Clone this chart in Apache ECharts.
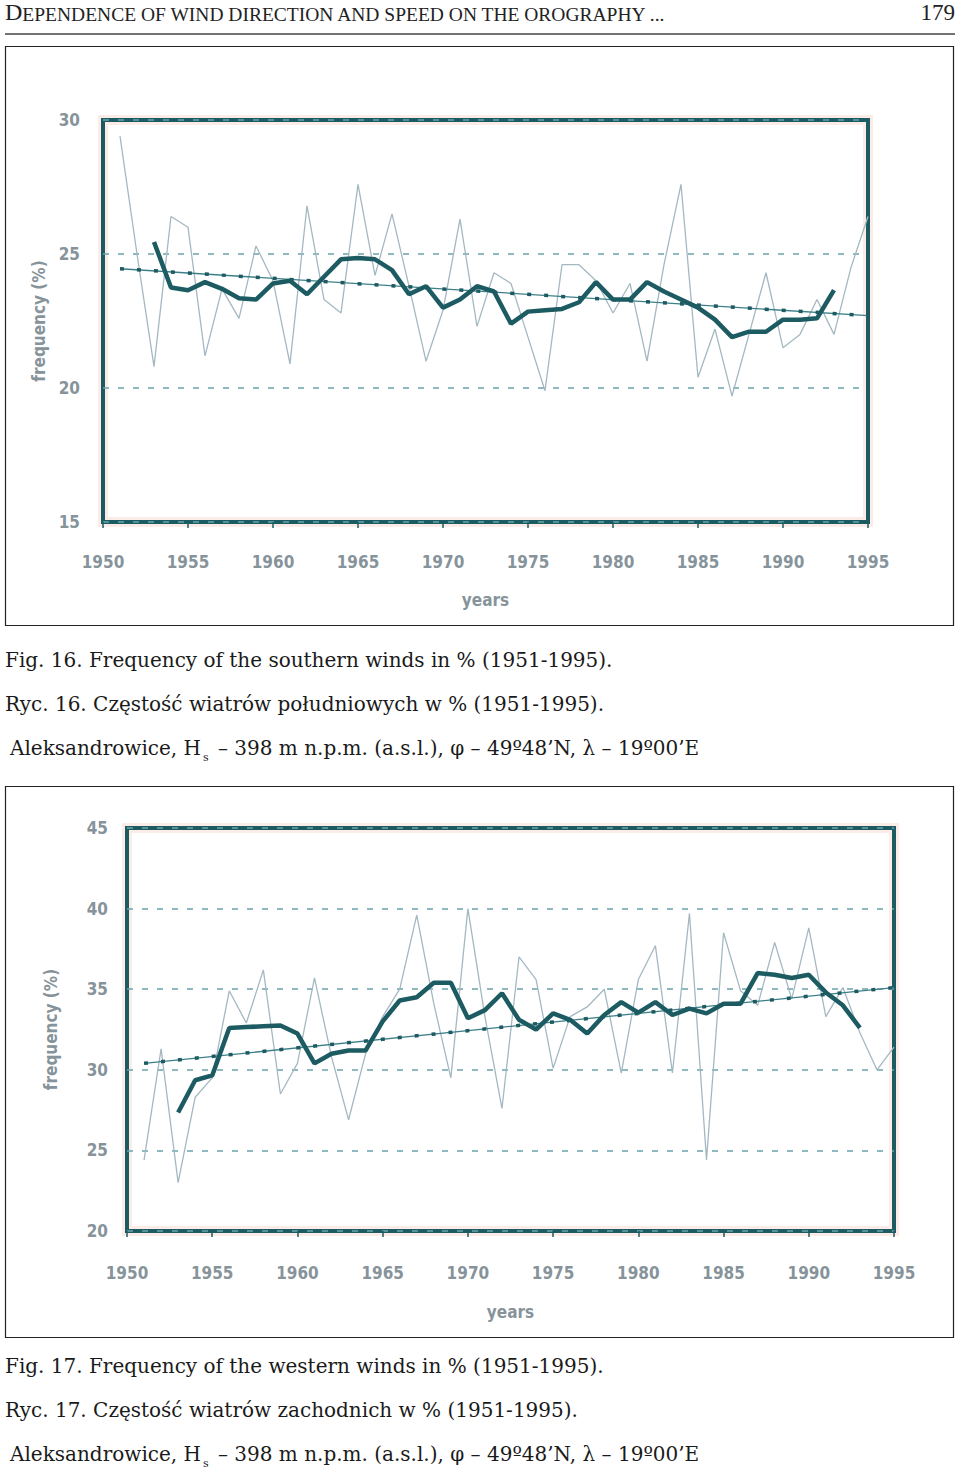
<!DOCTYPE html>
<html><head><meta charset="utf-8">
<script src="https://cdn.jsdelivr.net/npm/echarts@6/dist/echarts.min.js"></script>
<style>html,body{margin:0;padding:0;background:#fff}#c{width:960px;height:1476px}</style>
</head><body><div id="c"></div>
<script>
// ---------- data ----------
const years = [1951,1952,1953,1954,1955,1956,1957,1958,1959,1960,1961,1962,1963,1964,1965,1966,1967,1968,1969,1970,1971,1972,1973,1974,1975,1976,1977,1978,1979,1980,1981,1982,1983,1984,1985,1986,1987,1988,1989,1990,1991,1992,1993,1994,1995];
const maYears = [1953,1954,1955,1956,1957,1958,1959,1960,1961,1962,1963,1964,1965,1966,1967,1968,1969,1970,1971,1972,1973,1974,1975,1976,1977,1978,1979,1980,1981,1982,1983,1984,1985,1986,1987,1988,1989,1990,1991,1992,1993];
const xTicks = [1950,1955,1960,1965,1970,1975,1980,1985,1990,1995];

// Fig. 16 southern winds
const southFreq = [29.4,25.0,20.8,26.4,26.0,21.2,23.7,22.6,25.3,24.0,20.9,26.8,23.3,22.8,27.6,24.2,26.5,23.8,21.0,22.9,26.3,22.3,24.3,23.9,21.9,19.9,24.6,24.6,24.0,22.8,23.9,21.0,24.6,27.6,20.4,22.2,19.7,22.0,24.3,21.5,22.0,23.3,22.0,24.5,26.4];
const southMA = [25.45,23.75,23.65,23.95,23.7,23.35,23.3,23.9,24.0,23.5,24.15,24.8,24.85,24.8,24.4,23.5,23.8,23.0,23.3,23.8,23.6,22.4,22.85,22.9,22.95,23.2,23.95,23.3,23.3,23.95,23.6,23.3,23.0,22.55,21.9,22.1,22.1,22.55,22.55,22.6,23.65];
const southTrendYears = [1951,1995];
const southTrend = [24.45,22.7];
const southYTicks = [15,20,25,30];

// Fig. 17 western winds
const westFreq = [24.4,31.3,23.0,28.3,29.5,34.9,32.9,36.2,28.5,30.4,35.7,30.8,26.9,31.0,33.3,35.0,39.6,34.1,29.5,40.0,33.3,27.6,37.0,35.6,30.1,33.3,33.9,35.0,29.8,35.6,37.7,29.8,39.7,24.4,38.5,34.9,34.0,37.9,34.4,38.8,33.3,35.1,32.3,30.0,31.4];
const westMA = [27.35,29.35,29.65,32.6,32.65,32.7,32.75,32.25,30.4,31.0,31.2,31.2,33.0,34.3,34.5,35.4,35.4,33.2,33.7,34.75,33.1,32.5,33.5,33.1,32.25,33.4,34.2,33.55,34.2,33.4,33.8,33.5,34.1,34.1,36.0,35.9,35.7,35.9,34.8,34.0,32.6];
const westTrendYears = [1951,1995];
const westTrend = [30.4,35.1];
const westYTicks = [20,25,30,35,40,45];

// ---------- styling ----------
const TEAL = '#1d5b62';
const THIN = '#a4b8c2';
const LBL = '#86939a';
const NARROW = "'Liberation Sans Narrow','Arial Narrow','DejaVu Sans Condensed','Roboto Condensed',sans-serif";
const SERIF = "'DejaVu Serif','Liberation Serif',serif";

const pairs = (xs, ys) => xs.map((x, i) => [x, ys[i]]);

const G1 = {left:103, top:120, width:765, height:402};
const G2 = {left:127, top:828, width:767, height:403};

function xAxis(gi, margin, gap) {
  return {
    gridIndex: gi, type: 'value', min: xTicks[0], max: xTicks[xTicks.length-1], interval: 5,
    axisLine: {show:false},
    axisTick: {show:true, length:6, lineStyle:{color:TEAL, width:1.5}},
    splitLine: {show:false},
    axisLabel: {margin: margin, color: LBL, fontFamily: NARROW, fontWeight:'bold', fontSize: 17,
      formatter: v => String(v)},
    name: 'years', nameLocation: 'middle', nameGap: gap,
    nameTextStyle: {color: LBL, fontFamily: NARROW, fontWeight:'bold', fontSize: 17}
  };
}
function yAxis(gi, ticks, margin, gap) {
  return {
    gridIndex: gi, type: 'value', min: ticks[0], max: ticks[ticks.length-1], interval: 5,
    axisLine: {show:false}, axisTick: {show:false},
    splitLine: {show:true, lineStyle:{type:[6,9], color:'#6aa2ac', width:1.6}},
    axisLabel: {margin: margin, color: LBL, fontFamily: NARROW, fontWeight:'bold', fontSize: 17},
    name: 'frequency (%)', nameLocation: 'middle', nameGap: gap, nameRotate: 90,
    nameTextStyle: {color: LBL, fontFamily: NARROW, fontWeight:'bold', fontSize: 17}
  };
}
function seriesSet(gi, freq, ma, ty, tv) {
  return [
    {type:'line', xAxisIndex:gi, yAxisIndex:gi, data:pairs(years, freq), showSymbol:false, silent:true,
      lineStyle:{color:THIN, width:1.3}, z:2},
    {type:'line', xAxisIndex:gi, yAxisIndex:gi, data:pairs(ty, tv), showSymbol:false, silent:true,
      lineStyle:{color:'#3d7f88', width:1.3}, z:3},
    {type:'line', xAxisIndex:gi, yAxisIndex:gi, data:pairs(ty, tv), showSymbol:false, silent:true,
      lineStyle:{color:TEAL, width:3.5, type:[4,13]}, z:3},
    {type:'line', xAxisIndex:gi, yAxisIndex:gi, data:pairs(maYears, ma), showSymbol:false, silent:true,
      lineStyle:{color:TEAL, width:4.5}, z:4}
  ];
}

function captionBlock(top, fig, en, pl) {
  const base = {fontFamily: SERIF, fontSize: 20, fill:'#1a1a1a'};
  return [
    {type:'text', left:5, top:top, style:Object.assign({text:'Fig. '+fig+'. '+en}, base)},
    {type:'text', left:5, top:top+44, style:Object.assign({text:'Ryc. '+fig+'. '+pl}, base)},
    {type:'text', left:10, top:top+83, style:Object.assign({
      text:'Aleksandrowice, H{s|s} – 398 m n.p.m. (a.s.l.), φ – 49º48’N, λ – 19º00’E',
      lineHeight: 30, verticalAlign:'top',
      rich:{s:{fontFamily:SERIF, fontSize:11, verticalAlign:'bottom', lineHeight:30, fill:'#1a1a1a', padding:[0,3,0,2]}}
    }, base)}
  ];
}
function halo(g) {
  return {type:'rect', z:-5, shape:{x:g.left, y:g.top, width:g.width, height:g.height},
    style:{fill:'none', stroke:'rgba(238,170,150,0.22)', lineWidth:10}};
}

const chart = echarts.init(document.getElementById('c'), null, {renderer:'svg'});
chart.setOption({
  animation: false,
  backgroundColor: '#fff',
  grid: [
    Object.assign({show:true, borderColor:TEAL, borderWidth:4, backgroundColor:'transparent'}, G1),
    Object.assign({show:true, borderColor:TEAL, borderWidth:4, backgroundColor:'transparent'}, G2)
  ],
  xAxis: [xAxis(0, 31, 69), xAxis(1, 33, 72)],
  yAxis: [yAxis(0, southYTicks, 23, 56), yAxis(1, westYTicks, 19, 68)],
  series: [].concat(
    seriesSet(0, southFreq, southMA, southTrendYears, southTrend),
    seriesSet(1, westFreq, westMA, westTrendYears, westTrend)
  ),
  graphic: [].concat([
    {type:'text', left:5, top:0, style:{text:'D{s|EPENDENCE OF WIND DIRECTION AND SPEED ON THE OROGRAPHY ...}',
      fontFamily:"'Liberation Serif',serif", fontSize:24, fill:'#222',
      rich:{s:{fontFamily:"'Liberation Serif',serif", fontSize:19.5, fill:'#222', verticalAlign:'bottom'}}}},
    {type:'text', right:5, top:1, style:{text:'179', fontFamily:"'Liberation Serif',serif", fontSize:23, fill:'#222'}},
    {type:'line', shape:{x1:5, y1:34, x2:955, y2:34}, style:{stroke:'#444', lineWidth:1.5}},
    {type:'rect', shape:{x:5.5, y:46.5, width:948, height:579}, style:{fill:'none', stroke:'#222', lineWidth:1.2}},
    {type:'rect', shape:{x:5.5, y:786.5, width:948, height:551}, style:{fill:'none', stroke:'#222', lineWidth:1.2}},
    halo(G1), halo(G2)
  ],
  captionBlock(650, '16', 'Frequency of the southern winds in % (1951-1995).', 'Częstość wiatrów południowych w % (1951-1995).'),
  captionBlock(1356, '17', 'Frequency of the western winds in % (1951-1995).', 'Częstość wiatrów zachodnich w % (1951-1995).')
  )
});
</script></body></html>
